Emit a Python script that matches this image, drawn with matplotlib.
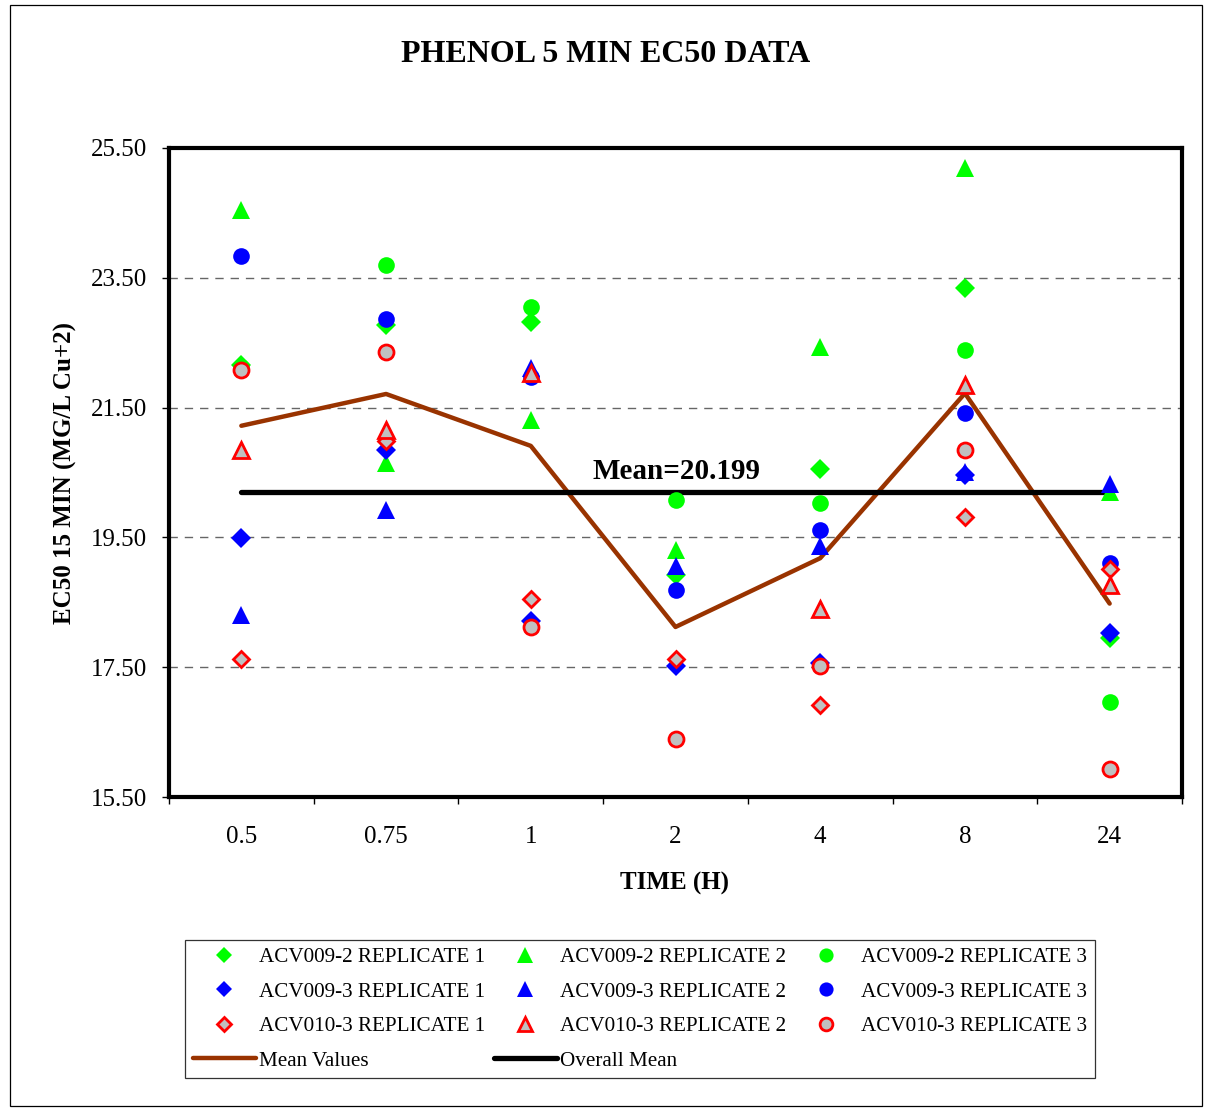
import matplotlib
matplotlib.use("Agg")
import matplotlib.pyplot as plt
from matplotlib.patches import Rectangle
import numpy as np

plt.rcParams['font.family'] = ['Liberation Serif', 'DejaVu Serif']

categories = ["0.5", "0.75", "1", "2", "4", "8", "24"]

# ACV009-2
acv0092_r1 = [22.15, 22.77, 22.82, 18.92, 20.55, 23.34, 17.95]
acv0092_r2 = [24.54, 20.65, 21.31, 19.31, 22.44, 25.19, 20.20]
acv0092_r3 = [22.12, 23.69, 23.05, 20.08, 20.03, 22.39, 16.97]
# ACV009-3
acv0093_r1 = [19.49, 20.85, 18.21, 17.52, 17.56, 20.46, 18.02]
acv0093_r2 = [18.30, 19.92, 22.11, 19.06, 19.36, 20.51, 20.33]
acv0093_r3 = [23.84, 22.87, 21.97, 18.69, 19.62, 21.41, 19.10]
# ACV010-3
acv0103_r1 = [17.62, 20.99, 18.55, 17.62, 16.92, 19.82, 19.01]
acv0103_r2 = [20.85, 21.15, 22.03, 15.30, 18.39, 21.85, 18.77]
acv0103_r3 = [22.08, 22.35, 18.12, 16.39, 17.52, 20.85, 15.93]

mean_values = [21.22, 21.71, 20.91, 18.12, 19.18, 21.72, 18.48]
overall_mean = 20.199

y_ticks = [15.5, 17.5, 19.5, 21.5, 23.5, 25.5]

W, H = 1207, 1109
fig = plt.figure(figsize=(W / 100, H / 100), dpi=100)
fig.patch.set_facecolor('white')
fig.add_artist(Rectangle((10 / W, 1 - 1106 / H), 1192 / W, 1101 / H,
                         transform=fig.transFigure, fill=False,
                         edgecolor='black', linewidth=0.9))

ax = fig.add_axes([169 / W, 1 - 797 / H, (1182 - 169) / W, (797 - 148) / H])
x = np.arange(len(categories))

green, blue, red, gray = '#00FF00', '#0000FF', '#FF0000', '#C0C0C0'
ms_d, ms_t, ms_o = 9.8, 13.5, 12

series = [
    ("ACV009-2 REPLICATE 1", acv0092_r1, 'D', ms_d, green, green, 0),
    ("ACV009-2 REPLICATE 2", acv0092_r2, '^', ms_t, green, green, 0),
    ("ACV009-2 REPLICATE 3", acv0092_r3, 'o', ms_o, green, green, 0),
    ("ACV009-3 REPLICATE 1", acv0093_r1, 'D', ms_d, blue, blue, 0),
    ("ACV009-3 REPLICATE 2", acv0093_r2, '^', ms_t, blue, blue, 0),
    ("ACV009-3 REPLICATE 3", acv0093_r3, 'o', ms_o, blue, blue, 0),
    ("ACV010-3 REPLICATE 1", acv0103_r1, 'D', ms_d - 1.3, gray, red, 2.0),
    ("ACV010-3 REPLICATE 2", acv0103_r2, '^', ms_t - 1.8, gray, red, 2.0),
    ("ACV010-3 REPLICATE 3", acv0103_r3, 'o', ms_o - 1.2, gray, red, 2.0),
]

handles = {}
for label, vals, mk, ms, fc, ec, mew in series:
    h, = ax.plot(x, vals, linestyle='none', marker=mk, markersize=ms,
                 markerfacecolor=fc, markeredgecolor=ec, markeredgewidth=mew,
                 zorder=4, label=label)
    handles[label] = h

hm, = ax.plot(x, mean_values, color='#993300', linewidth=3.2, zorder=3,
              label='Mean Values', solid_capstyle='round')
ho, = ax.plot(x, [overall_mean] * len(x), color='black', linewidth=3.8, zorder=3,
              label='Overall Mean', solid_capstyle='round')

ax.annotate(f"Mean={overall_mean}", xy=(3, overall_mean), xytext=(0.5, 14.5),
            textcoords='offset points', ha='center', va='center',
            fontsize=21, fontweight='bold', zorder=5)

ax.set_xlim(-0.5, len(categories) - 0.5)
ax.set_ylim(15.5, 25.5)
ax.set_yticks(y_ticks)
ax.set_yticklabels([f"{v:.2f}" for v in y_ticks], fontsize=18)
ax.set_xticks(x)
ax.set_xticklabels(categories, fontsize=18)
ax.set_xticks(np.arange(-0.5, len(categories)), minor=True)
ax.tick_params(axis='x', which='major', length=0, pad=21)
ax.tick_params(axis='x', which='minor', length=5, width=1, direction='out')
ax.tick_params(axis='y', which='major', length=5, width=1, direction='out', pad=11)

for v in y_ticks[1:-1]:
    ax.axhline(v, color='#666666', linewidth=1, linestyle=(0, (6, 5)), zorder=1)

for s in ax.spines.values():
    s.set_linewidth(3)

fig.text(606 / W, 1 - 55 / H, "PHENOL 5 MIN EC50 DATA", ha='center', va='center',
         fontsize=23, fontweight='bold')
fig.text(675 / W, 1 - 883 / H, "TIME (H)", ha='center', va='center',
         fontsize=18, fontweight='bold')
fig.text(65 / W, 1 - 473 / H, "EC50 15 MIN (MG/L Cu+2)", ha='center', va='center',
         rotation=90, fontsize=18, fontweight='bold')

order = ["ACV009-2 REPLICATE 1", "ACV009-3 REPLICATE 1", "ACV010-3 REPLICATE 1", None,
         "ACV009-2 REPLICATE 2", "ACV009-3 REPLICATE 2", "ACV010-3 REPLICATE 2", "OM",
         "ACV009-2 REPLICATE 3", "ACV009-3 REPLICATE 3", "ACV010-3 REPLICATE 3"]
hl, ll = [], []
for k in order:
    if k is None:
        hl.append(hm); ll.append('Mean Values')
    elif k == "OM":
        hl.append(ho); ll.append('Overall Mean')
    else:
        hl.append(handles[k]); ll.append(k)

leg = fig.legend(hl, ll, ncol=3, loc='center',
                 bbox_to_anchor=(640 / W, 1 - 1009 / H), frameon=True,
                 fancybox=False, edgecolor='black', fontsize=15.2,
                 markerscale=0.85, handlelength=3.0, handletextpad=0.15,
                 columnspacing=0.4, labelspacing=0.7, borderpad=0.35,
                 borderaxespad=0)
leg.get_frame().set_linewidth(0.9)

fig.savefig("out.png", dpi=100, facecolor='white')
